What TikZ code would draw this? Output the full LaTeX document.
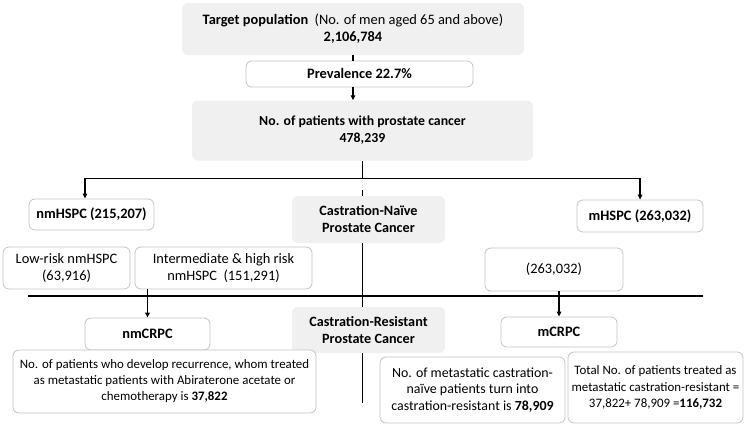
\documentclass[tikz,border=0pt]{standalone}
\usepackage{fontspec}
\setmainfont{Carlito}
\usetikzlibrary{arrows.meta}
\definecolor{boxgray}{HTML}{F0F0F0}
\definecolor{edgegray}{HTML}{C4C4C4}
\begin{document}
\begin{tikzpicture}[x=1pt,y=-1pt,
  base/.style={rectangle,rounded corners=6pt,inner sep=0pt,align=center,font=\fontsize{14.4}{17}\selectfont},
  graybox/.style={base,fill=boxgray,draw=none},
  whitebox/.style={base,fill=white,draw=edgegray,line width=0.8pt},
  conn/.style={line width=1.3pt,black},
  arr/.style={conn,-{Triangle[length=5pt,width=4.5pt]}}]
\useasboundingbox (0,0) rectangle (746,426);
% nodes
\node[graybox,minimum width=342pt,minimum height=52pt] (target) at (353,29)
  {\textbf{Target population}\ \ (No. of men aged 65 and above)\\\textbf{2,106,784}};
\node[whitebox,minimum width=227pt,minimum height=26pt] (prev) at (359.5,74) {\textbf{Prevalence 22.7\%}};
\node[graybox,minimum width=341pt,minimum height=60pt,font=\fontsize{13.8}{17}\selectfont] (patient) at (362.5,130.5)
  {\textbf{No. of patients with prostate cancer}\\\textbf{478,239}};
\node[whitebox,minimum width=125pt,minimum height=31pt] (nmHSPC) at (91.5,214.5) {\textbf{nmHSPC (215,207)}};
\node[graybox,minimum width=153pt,minimum height=47pt,font=\fontsize{14.2}{17}\selectfont] (naive) at (368.5,219.5) {\textbf{Castration-Naïve}\\\textbf{Prostate Cancer}};
\node[whitebox,minimum width=126pt,minimum height=32pt] (mHSPC) at (640,216) {\textbf{mHSPC (263,032)}};
\node[whitebox,minimum width=127pt,minimum height=42pt] (low) at (66.5,268) {Low-risk nmHSPC\\(63,916)};
\node[whitebox,minimum width=177pt,minimum height=42pt] (inter) at (223.5,268) {Intermediate \& high risk\\nmHSPC\ \ (151,291)};
\node[whitebox,minimum width=138pt,minimum height=43pt] (m263) at (554,269.5) {(263,032)};
\node[whitebox,minimum width=125pt,minimum height=32pt] (nmCRPC) at (147.5,334) {\textbf{nmCRPC}};
\node[graybox,minimum width=153pt,minimum height=46pt,font=\fontsize{14.2}{17}\selectfont] (castres) at (368.5,330) {\textbf{Castration-Resistant}\\\textbf{Prostate Cancer}};
\node[whitebox,minimum width=116pt,minimum height=30pt] (mCRPC) at (559,332) {\textbf{mCRPC}};
\node[whitebox,minimum width=303pt,minimum height=63pt,font=\fontsize{12.9}{16}\selectfont] (recur) at (164.5,381.5)
  {No. of patients who develop recurrence, whom treated\\as metastatic patients with Abiraterone acetate or\\chemotherapy is \textbf{37,822}};
\node[whitebox,minimum width=185pt,minimum height=66pt,font=\fontsize{13.9}{16.5}\selectfont] (naivepat) at (472.5,390)
  {No. of metastatic castration-\\naïve patients turn into\\castration-resistant is \textbf{78,909}};
\node[whitebox,minimum width=175pt,minimum height=71pt,font=\fontsize{12.9}{16.5}\selectfont] (total) at (655.5,387.5)
  {Total No. of patients treated as\\metastatic castration-resistant =\\37,822+ 78,909 =\textbf{116,732}};
% connectors
\draw[conn] (target.south) -- (target.south |- prev.north);
\draw[arr] (target.south |- prev.south) -- (target.south |- patient.north);
\draw[conn] (patient.south) -- ++(0,18) coordinate (j);
\draw[arr] (j) -| ([xshift=-6.5pt]nmHSPC.north);
\draw[arr] (j) -| (mHSPC.north);
\draw[conn] (naive.north -| patient.south) -- ++(0,-6);
\draw[conn] (28,296) coordinate (hl) -- (703,296) coordinate (hr);
\draw[conn] (naive.south -| patient.south) -- (castres.north -| patient.south);
\draw[conn] (castres.south -| patient.south) -- ++(0,50);
\draw[arr] (nmCRPC.north |- inter.south) -- (nmCRPC.north);
\draw[arr] (mCRPC.north |- m263.south) -- (mCRPC.north);
\end{tikzpicture}
\end{document}
